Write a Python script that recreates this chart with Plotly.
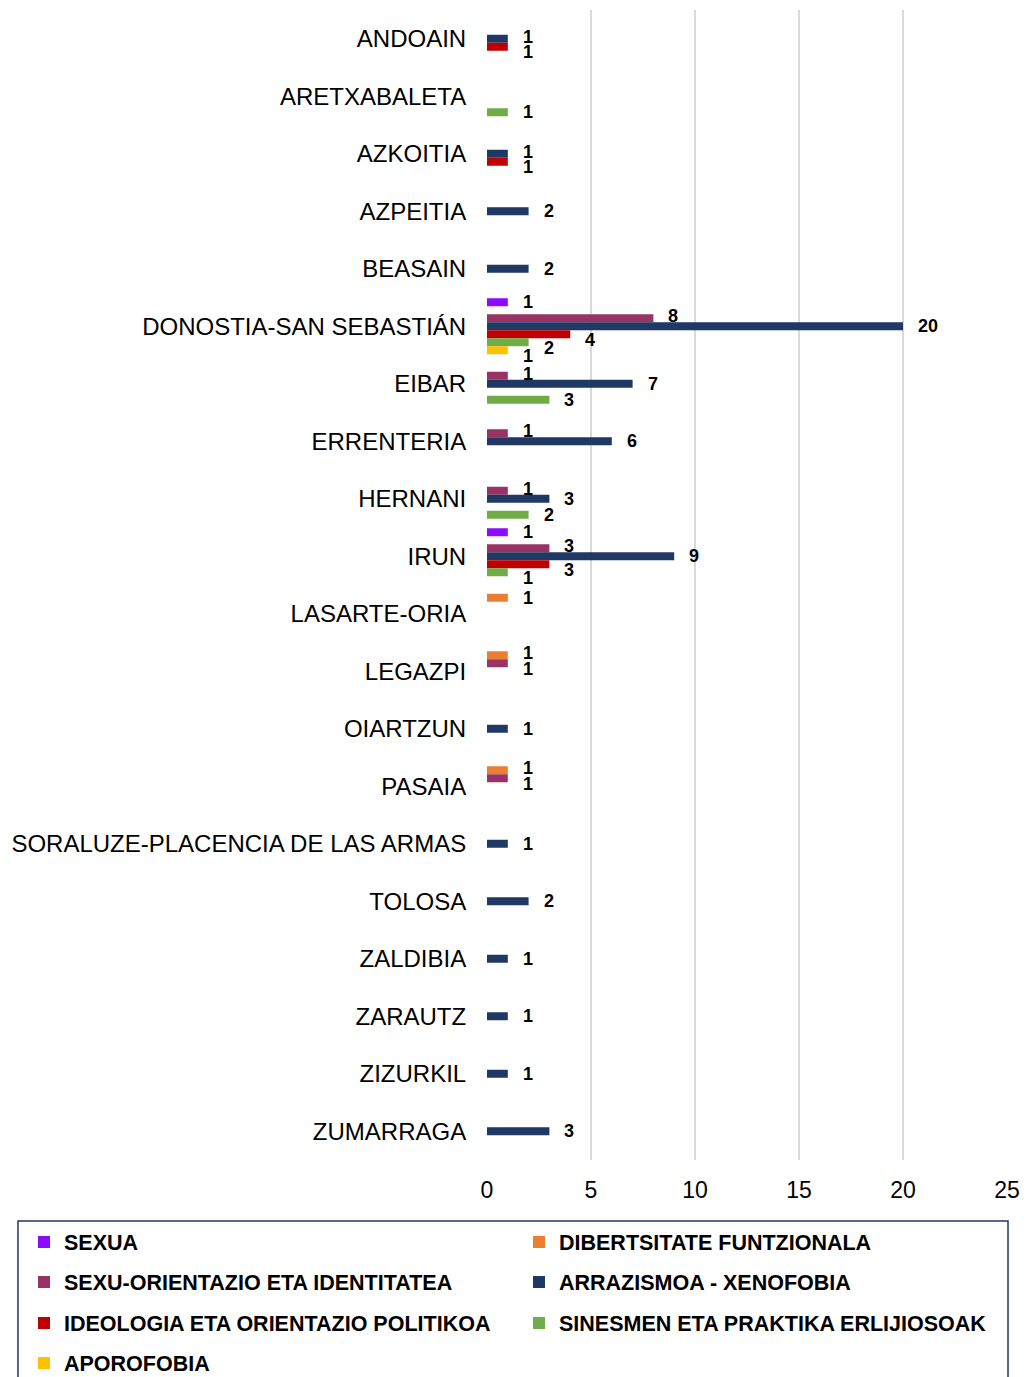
import plotly.graph_objects as go

categories = ["ANDOAIN", "ARETXABALETA", "AZKOITIA", "AZPEITIA", "BEASAIN",
              "DONOSTIA-SAN SEBASTIÁN", "EIBAR", "ERRENTERIA", "HERNANI", "IRUN",
              "LASARTE-ORIA", "LEGAZPI", "OIARTZUN", "PASAIA",
              "SORALUZE-PLACENCIA DE LAS ARMAS", "TOLOSA", "ZALDIBIA", "ZARAUTZ",
              "ZIZURKIL", "ZUMARRAGA"]

series_names = ["SEXUA", "DIBERTSITATE FUNTZIONALA", "SEXU-ORIENTAZIO ETA IDENTITATEA",
                "ARRAZISMOA - XENOFOBIA", "IDEOLOGIA ETA ORIENTAZIO POLITIKOA",
                "SINESMEN ETA PRAKTIKA ERLIJIOSOAK", "APOROFOBIA"]
series_colors = ["#8B0AFF", "#ED7D31", "#993366", "#203864", "#C00000", "#70AD47", "#FFC000"]

N = None
sexua =          [N, N, N, N, N, 1, N, N, N, 1, N, N, N, N, N, N, N, N, N, N]
dibertsitate =   [N, N, N, N, N, N, N, N, N, N, 1, 1, N, 1, N, N, N, N, N, N]
sexu_orient =    [N, N, N, N, N, 8, 1, 1, 1, 3, N, 1, N, 1, N, N, N, N, N, N]
arrazismoa =     [1, N, 1, 2, 2, 20, 7, 6, 3, 9, N, N, 1, N, 1, 2, 1, 1, 1, 3]
ideologia =      [1, N, 1, N, N, 4, N, N, N, 3, N, N, N, N, N, N, N, N, N, N]
sinesmen =       [N, 1, N, N, N, 2, 3, N, 2, 1, N, N, N, N, N, N, N, N, N, N]
aporofobia =     [N, N, N, N, N, 1, N, N, N, N, N, N, N, N, N, N, N, N, N, N]

series_values = [sexua, dibertsitate, sexu_orient, arrazismoa, ideologia, sinesmen, aporofobia]

x_ticks = [0, 5, 10, 15, 20, 25]

FONT = "Liberation Sans, Arial, sans-serif"

W, H = 1026, 1377
ML, MR, MT, MB = 487, 19, 10, 217
PW, PH = W - ML - MR, H - MT - MB
BARGAP = 0.026
NS = len(series_names)
slot_px = PH / len(categories) * (1 - BARGAP) / NS


def px_x(px):
    return (px - ML) / PW


def px_y(py):
    return (H - MB - py) / PH


fig = go.Figure()
for i, (name, color, vals) in enumerate(zip(series_names, series_colors, series_values)):
    fig.add_trace(go.Bar(
        y=categories, x=vals, name=name, orientation="h",
        marker=dict(color=color, line=dict(width=0)),
        legend="legend" if i == 0 else f"legend{i + 1}",
        hoverinfo="x+y+name",
    ))

# data labels (value labels next to each bar, nudged apart like the original)
annotations = []
for i, vals in enumerate(series_values):
    for j, v in enumerate(vals):
        if v is None:
            continue
        above = series_values[i - 1][j] if i > 0 else None
        below = series_values[i + 1][j] if i < NS - 1 else None
        dy = 0
        if above is not None and above >= v:
            dy = 5.5
        elif below is not None and below >= v:
            dy = -2
        annotations.append(dict(
            x=v, y=categories[j], xref="x", yref="y", text=f"<b>{v}</b>",
            showarrow=False, xanchor="left", yanchor="middle",
            xshift=13, yshift=-(i - (NS - 1) / 2) * slot_px - dy,
            font=dict(family=FONT, size=18, color="#000000"),
        ))

# legends: one per entry, laid out in two columns like the original
legend_cols_px = [24, 519]
legend_rows_px = [1242, 1282, 1323, 1363]
layout_legends = {}
for i in range(NS):
    key = "legend" if i == 0 else f"legend{i + 1}"
    layout_legends[key] = dict(
        orientation="h", x=px_x(legend_cols_px[i % 2]), xanchor="left",
        y=px_y(legend_rows_px[i // 2]), yanchor="middle",
        itemwidth=30,
        font=dict(family=FONT, size=21.5, color="#000000", weight="bold"),
        bgcolor="rgba(0,0,0,0)", borderwidth=0,
    )

fig.update_layout(
    width=W, height=H,
    margin=dict(l=ML, r=MR, t=MT, b=MB, autoexpand=False),
    barmode="group", bargap=BARGAP, bargroupgap=0,
    plot_bgcolor="#FFFFFF", paper_bgcolor="#FFFFFF",
    font=dict(family=FONT, color="#000000"),
    showlegend=True,
    xaxis=dict(range=[0, 25], tickvals=x_ticks, showgrid=True, gridcolor="#D9D9D9",
               gridwidth=2, zeroline=False, showline=False, ticks="outside", ticklen=9,
               tickcolor="rgba(0,0,0,0)", tickfont=dict(family=FONT, size=23, color="#000000")),
    yaxis=dict(type="category", autorange="reversed", showgrid=False, zeroline=False,
               showline=False, ticks="outside", ticklen=15, tickcolor="rgba(0,0,0,0)",
               tickfont=dict(family=FONT, size=24, color="#000000")),
    shapes=[dict(type="rect", xref="paper", yref="paper",
                 x0=px_x(18), x1=px_x(1008), y0=px_y(1221), y1=px_y(1400),
                 line=dict(color="#1F3864", width=1.5), fillcolor="rgba(0,0,0,0)", layer="above")],
    annotations=annotations,
    **layout_legends,
)

fig.write_html("out.html", config={"displayModeBar": False},
               post_script="document.body.style.margin='0px';")
